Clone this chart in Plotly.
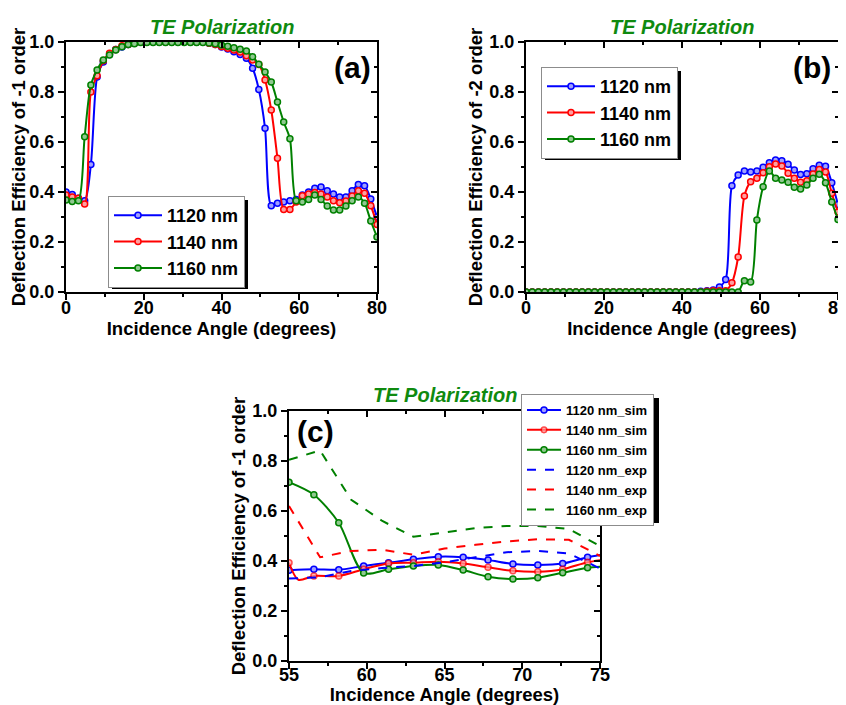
import plotly.graph_objects as go

# ---------------- data ----------------
angle_ab = [0, 1.6, 3.2, 4.8, 6.4, 8.0, 9.6, 11.2, 12.8, 14.4, 16.0, 17.6, 19.2, 20.8, 22.4, 24.0,
            25.6, 27.2, 28.8, 30.4, 32.0, 33.6, 35.2, 36.8, 38.4, 40.0, 41.6, 43.2, 44.8, 46.4,
            48.0, 49.6, 51.2, 52.8, 54.4, 56.0, 57.6, 59.2, 60.8, 62.4, 64.0, 65.6, 67.2, 68.8,
            70.4, 72.0, 73.6, 75.2, 76.8, 78.4, 80.0]

a_1120 = [0.40, 0.39, 0.375, 0.365, 0.51, 0.86, 0.92, 0.95, 0.97, 0.98, 0.99, 0.995,
          1.0, 1.0, 1.0, 1.0, 1.0, 1.0, 1.0, 1.0, 1.0, 1.0, 1.0,
          0.995, 0.99, 0.98, 0.972, 0.961, 0.95, 0.935, 0.895, 0.81, 0.655, 0.345, 0.355,
          0.36, 0.365, 0.37, 0.388, 0.40, 0.415, 0.42, 0.405, 0.392, 0.38, 0.38, 0.405,
          0.43, 0.425, 0.372, 0.30]
a_1140 = [0.388, 0.38, 0.375, 0.352, 0.80, 0.865, 0.925, 0.955, 0.97, 0.985, 0.99, 0.995,
          1.0, 1.0, 1.0, 1.0, 1.0, 1.0, 1.0, 1.0, 1.0, 1.0, 1.0,
          0.995, 0.99, 0.982, 0.975, 0.968, 0.96, 0.945, 0.928, 0.91, 0.848, 0.728, 0.535,
          0.33, 0.33, 0.36, 0.385, 0.392, 0.398, 0.392, 0.38, 0.365, 0.357, 0.364, 0.384,
          0.405, 0.395, 0.345, 0.27]
a_1160 = [0.368, 0.362, 0.365, 0.621, 0.828, 0.888, 0.928, 0.948, 0.968, 0.981, 0.99, 0.993,
          0.998, 0.998, 0.998, 0.998, 0.998, 0.998, 0.998, 0.998, 0.998, 0.998, 0.998,
          0.996, 0.993, 0.988, 0.983, 0.977, 0.971, 0.964, 0.941, 0.911, 0.88, 0.84, 0.76,
          0.68, 0.613, 0.365, 0.36, 0.37, 0.388, 0.37, 0.344, 0.328, 0.328, 0.344, 0.365,
          0.38, 0.355, 0.284, 0.22]

b_1120 = [0, 0, 0, 0, 0, 0, 0, 0, 0, 0, 0, 0, 0, 0, 0, 0, 0, 0, 0, 0, 0, 0, 0, 0, 0, 0, 0, 0,
          0.003, 0.005, 0.008, 0.02, 0.05, 0.425, 0.468, 0.484, 0.48, 0.484, 0.499, 0.517,
          0.528, 0.525, 0.511, 0.488, 0.47, 0.473, 0.493, 0.507, 0.503, 0.437, 0.35]
b_1140 = [0, 0, 0, 0, 0, 0, 0, 0, 0, 0, 0, 0, 0, 0, 0, 0, 0, 0, 0, 0, 0, 0, 0, 0, 0, 0, 0, 0,
          0.0, 0.003, 0.005, 0.005, 0.005, 0.037, 0.14, 0.384, 0.441, 0.455, 0.477, 0.501,
          0.512, 0.504, 0.475, 0.455, 0.439, 0.445, 0.472, 0.49, 0.48, 0.395, 0.32]
b_1160 = [0, 0, 0, 0, 0, 0, 0, 0, 0, 0, 0, 0, 0, 0, 0, 0, 0, 0, 0, 0, 0, 0, 0, 0, 0, 0, 0, 0,
          0, 0, 0, 0, 0, 0, 0.0, 0.045, 0.04, 0.288, 0.421, 0.484, 0.455, 0.448, 0.439,
          0.419, 0.412, 0.428, 0.455, 0.471, 0.437, 0.36, 0.29]

sim_angle = [55, 55.6, 56.6, 58.2, 59.8, 61.4, 63.0, 64.6, 66.2, 67.8, 69.4, 71.0, 72.6, 74.2, 75.8]
sim_marked = [1, 0, 1, 1, 1, 1, 1, 1, 1, 1, 1, 1, 1, 1, 1]
c_sim_1120 = [0.363, 0.365, 0.367, 0.365, 0.38, 0.393, 0.407, 0.417, 0.415, 0.404, 0.388, 0.384, 0.39, 0.415, 0.432]
c_sim_1140 = [0.393, 0.325, 0.34, 0.34, 0.367, 0.39, 0.393, 0.397, 0.39, 0.375, 0.361, 0.357, 0.367, 0.395, 0.41]
c_sim_1160 = [0.715, 0.69, 0.665, 0.553, 0.352, 0.367, 0.38, 0.384, 0.364, 0.337, 0.328, 0.333, 0.353, 0.373, 0.38]

exp_angle = [55, 57, 59, 61, 63, 65, 67, 69, 71, 73, 75]
c_exp_1120 = [0.33, 0.335, 0.36, 0.372, 0.38, 0.395, 0.415, 0.435, 0.44, 0.43, 0.37]
c_exp_1140 = [0.62, 0.415, 0.44, 0.445, 0.425, 0.45, 0.465, 0.478, 0.487, 0.485, 0.42]
c_exp_1160 = [0.805, 0.842, 0.645, 0.56, 0.497, 0.515, 0.532, 0.54, 0.54, 0.528, 0.46]

labels_ab = ["1120 nm", "1140 nm", "1160 nm"]
labels_sim = ["1120 nm_sim", "1140 nm_sim", "1160 nm_sim"]
labels_exp = ["1120 nm_exp", "1140 nm_exp", "1160 nm_exp"]

# ---------------- styles ----------------
COLORS = ["#0000ff", "#ff0000", "#008000"]
FILLS = ["#a0a0ff", "#ffa0a0", "#90c890"]
FONT = "Liberation Sans, Arial, sans-serif"
OFF = 8                      # page body margin in the browser
W, H = 838, 697              # figure size so that the visible window is filled


def px_x(p):
    return (p - OFF) / W


def px_y(p):
    return 1 - (p - OFF) / H


fig = go.Figure()


def add_lm(x, y, i, name, xa, ya, leg, sizes=None):
    fig.add_trace(go.Scatter(
        x=x, y=y, name=name, mode="lines+markers", xaxis=xa, yaxis=ya, legend=leg,
        line=dict(color=COLORS[i], width=2, shape="spline", smoothing=0.8),
        marker=dict(symbol="circle", size=sizes if sizes else 6, color=FILLS[i],
                    line=dict(color=COLORS[i], width=1.5)),
        hoverinfo="skip"))


for i, ys in enumerate([a_1120, a_1140, a_1160]):
    add_lm(angle_ab, ys, i, labels_ab[i], "x", "y", "legend")
for i, ys in enumerate([b_1120, b_1140, b_1160]):
    add_lm(angle_ab, ys, i, labels_ab[i], "x2", "y2", "legend2")
for i, ys in enumerate([c_sim_1120, c_sim_1140, c_sim_1160]):
    if i == 1:
        xs, yv, sz = sim_angle, ys, [6 if m else 0 for m in sim_marked]
    else:
        xs = [a for a, m in zip(sim_angle, sim_marked) if m]
        yv = [v for v, m in zip(ys, sim_marked) if m]
        sz = None
    add_lm(xs, yv, i, labels_sim[i], "x3", "y3", "legend3", sz)
for i, ys in enumerate([c_exp_1120, c_exp_1140, c_exp_1160]):
    fig.add_trace(go.Scatter(
        x=exp_angle, y=ys, name=labels_exp[i], mode="lines", xaxis="x3", yaxis="y3",
        legend="legend3", line=dict(color=COLORS[i], width=2, dash="dash"), hoverinfo="skip"))

# dummy traces for inward mirror ticks
for xa, ya in [("x4", "y4"), ("x5", "y5"), ("x6", "y6")]:
    fig.add_trace(go.Scatter(x=[None], y=[None], xaxis=xa, yaxis=ya, showlegend=False,
                             hoverinfo="skip", mode="markers"))

tickfont = dict(family=FONT, size=18, color="black", weight="bold")
titlefont = dict(family=FONT, size=18.5, color="black", weight="bold")


def xax(dom, rng, dtick, minor, anchor, title, lstand=-8):
    return dict(domain=dom, range=rng, dtick=dtick, anchor=anchor, showline=True, linecolor="black",
                linewidth=2, mirror=True, ticks="outside", ticklen=6, tickwidth=2, tickcolor="black",
                showgrid=False, zeroline=False, tickfont=tickfont, automargin=False,
                ticklabelstandoff=lstand, ticklabeloverflow="allow",
                minor=dict(dtick=minor, ticks="outside", ticklen=3, tickwidth=1.5, tickcolor="black"),
                title=dict(text=title, font=titlefont, standoff=5))


def yax(dom, anchor, title):
    return dict(domain=dom, range=[0, 1], dtick=0.2, tickformat=".1f", anchor=anchor, showline=True,
                linecolor="black", linewidth=2, mirror=True, ticks="outside", ticklen=6, tickwidth=2,
                tickcolor="black", showgrid=False, zeroline=False, tickfont=tickfont, automargin=False,
                minor=dict(dtick=0.1, ticks="outside", ticklen=3, tickwidth=1.5, tickcolor="black"),
                title=dict(text=title, font=titlefont, standoff=2))


def xin(over, anchor, rng, dtick, minor):
    return dict(overlaying=over, anchor=anchor, side="top", range=rng, dtick=dtick, showline=False,
                ticks="inside", ticklen=6, tickwidth=2, tickcolor="black", showticklabels=False,
                showgrid=False, zeroline=False, automargin=False,
                minor=dict(dtick=minor, ticks="inside", ticklen=3, tickwidth=1.5, tickcolor="black"))


def yin(over, anchor):
    return dict(overlaying=over, anchor=anchor, side="right", range=[0, 1], dtick=0.2, showline=False,
                ticks="inside", ticklen=6, tickwidth=2, tickcolor="black", showticklabels=False,
                showgrid=False, zeroline=False, automargin=False,
                minor=dict(dtick=0.1, ticks="inside", ticklen=3, tickwidth=1.5, tickcolor="black"))


dom_a_x = [px_x(66), px_x(377)]
dom_b_x = [px_x(526), px_x(838)]
dom_c_x = [px_x(289), px_x(600)]
dom_ab_y = [px_y(292), px_y(42)]
dom_c_y = [px_y(661), px_y(411)]

xt = "Incidence Angle (degrees)"
fig.update_layout(
    xaxis=xax(dom_a_x, [0, 80], 20, 10, "y", xt),
    yaxis=yax(dom_ab_y, "x", "Deflection Efficiency of -1 order"),
    xaxis2=xax(dom_b_x, [0, 80], 20, 10, "y2", xt),
    yaxis2=yax(dom_ab_y, "x2", "Deflection Efficiency of -2 order"),
    xaxis3=xax(dom_c_x, [55, 75], 5, 2.5, "y3", xt, lstand=-10),
    yaxis3=yax(dom_c_y, "x3", "Deflection Efficiency of -1 order"),
    xaxis4=xin("x", "y", [0, 80], 20, 10), yaxis4=yin("y", "x"),
    xaxis5=xin("x2", "y2", [0, 80], 20, 10), yaxis5=yin("y2", "x2"),
    xaxis6=xin("x3", "y3", [55, 75], 5, 2.5), yaxis6=yin("y3", "x3"),
)

leg_common = dict(xanchor="left", yanchor="top", bgcolor="white", bordercolor="#8c8c8c", borderwidth=1,
                  tracegroupgap=0)
fig.update_layout(
    legend=dict(x=px_x(108), y=px_y(196), itemwidth=48,
                font=dict(family=FONT, size=18, color="black", weight="bold"), **leg_common),
    legend2=dict(x=px_x(541), y=px_y(67), itemwidth=48,
                 font=dict(family=FONT, size=18, color="black", weight="bold"), **leg_common),
    legend3=dict(x=px_x(521), y=px_y(394), itemwidth=34,
                 font=dict(family=FONT, size=13, color="black", weight="bold"), **leg_common),
)

# legend shadows (legend box + 4 px offset), in window pixels: left, top, width, height
legend_boxes = [(108, 196, 136, 89), (541, 67, 136, 89), (521, 394, 134, 125)]
shapes = []
for lx, ly, lw, lh in legend_boxes:
    shapes.append(dict(type="rect", xref="paper", yref="paper",
                       x0=px_x(lx + 4), x1=px_x(lx + lw + 4), y0=px_y(ly + lh + 4), y1=px_y(ly + 4),
                       fillcolor="black", line=dict(width=0), layer="above"))
fig.update_layout(shapes=shapes)

ttl = dict(family=FONT, size=20, color="#0f8a0f", weight="bold", style="italic")
lab = dict(family=FONT, size=30, color="black", weight="bold")
ann = []
for cx, cy in [(221.5, 27), (682, 27), (444.5, 395)]:
    ann.append(dict(text="TE Polarization", x=px_x(cx), y=px_y(cy), xref="paper", yref="paper",
                    showarrow=False, font=ttl, xanchor="center", yanchor="middle"))
for t, cx, cy in [("(a)", 352, 68), ("(b)", 812, 68), ("(c)", 315, 432)]:
    ann.append(dict(text=t, x=px_x(cx), y=px_y(cy), xref="paper", yref="paper",
                    showarrow=False, font=lab, xanchor="center", yanchor="middle"))
fig.update_layout(annotations=ann)

fig.update_layout(width=W, height=H, margin=dict(l=0, r=0, t=0, b=0, autoexpand=False),
                  paper_bgcolor="white", plot_bgcolor="white", showlegend=True)

fig.write_html("out.html")
